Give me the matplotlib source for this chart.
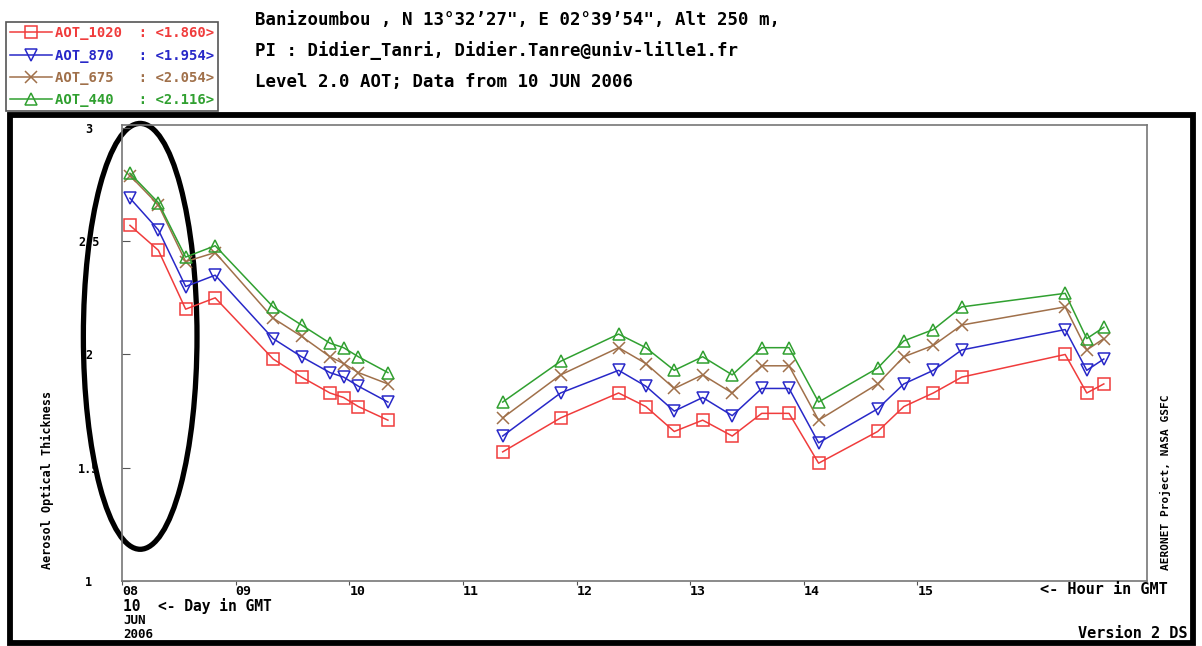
import numpy as np
import matplotlib
matplotlib.use('Agg')
from matplotlib import pyplot as plt
from matplotlib.patches import Ellipse, Rectangle

# hours GMT, 10 JUN 2006
hours = [8.07, 8.32, 8.56, 8.82, 9.33, 9.58, 9.83, 9.95, 10.08, 10.34,
         11.35, 11.86, 12.37, 12.61, 12.86, 13.11, 13.37, 13.63, 13.87, 14.13,
         14.65, 14.88, 15.14, 15.39, 16.30, 16.49, 16.64]
seg_start = [10]  # data gap before this index

aot_1020 = [2.57, 2.46, 2.20, 2.25, 1.98, 1.90, 1.83, 1.81, 1.77, 1.71,
            1.57, 1.72, 1.83, 1.77, 1.66, 1.71, 1.64, 1.74, 1.74, 1.52,
            1.66, 1.77, 1.83, 1.90, 2.00, 1.83, 1.87]
aot_870 = [2.69, 2.55, 2.30, 2.35, 2.07, 1.99, 1.92, 1.90, 1.86, 1.79,
           1.64, 1.83, 1.93, 1.86, 1.75, 1.81, 1.73, 1.85, 1.85, 1.61,
           1.76, 1.87, 1.93, 2.02, 2.11, 1.93, 1.98]
aot_675 = [2.79, 2.66, 2.41, 2.45, 2.16, 2.08, 1.99, 1.96, 1.92, 1.87,
           1.72, 1.91, 2.03, 1.96, 1.85, 1.91, 1.83, 1.95, 1.95, 1.71,
           1.87, 1.99, 2.04, 2.13, 2.21, 2.02, 2.07]
aot_440 = [2.80, 2.67, 2.43, 2.48, 2.21, 2.13, 2.05, 2.03, 1.99, 1.92,
           1.79, 1.97, 2.09, 2.03, 1.93, 1.99, 1.91, 2.03, 2.03, 1.79,
           1.94, 2.06, 2.11, 2.21, 2.27, 2.07, 2.12]

names = ['AOT_1020', 'AOT_870', 'AOT_675', 'AOT_440']
means = ['1.860', '1.954', '2.054', '2.116']
colors = ['#f03c3c', '#2828c8', '#a0704a', '#30a030']
markers = ['s', 'v', 'x', '^']

mono = 'DejaVu Sans Mono'
plt.rcParams['font.family'] = mono
plt.rcParams['font.weight'] = 'bold'

fig = plt.figure(figsize=(12.02, 6.46), dpi=100)
W, H = 1202, 646
ax = fig.add_axes([122 / W, 1 - 581 / H, (1147 - 122) / W, (581 - 125) / H])


def with_gaps(v):
  return np.insert(np.array(v, dtype=float), seg_start, np.nan)


x = with_gaps(hours)
handles = []
for vals, name, m, c, mk in zip([aot_1020, aot_870, aot_675, aot_440], names, means, colors, markers):
  ln, = ax.plot(x, with_gaps(vals), color=c, lw=1.1, marker=mk, markersize=8,
                mfc='none', mec=c, mew=1.1,
                label=f'{name:<10}: <{m}>')
  handles.append(ln)

ax.set_xlim(8.0, 17.02)
ax.set_ylim(1.0, 3.013)
ax.set_xticks(range(8, 16))
ax.set_xticklabels(['08', '09', '10', '11', '12', '13', '14', '15'], ha='left')
ax.set_yticks([1, 1.5, 2, 2.5, 3])
ax.set_yticklabels(['1', '1.5', '2', '2.5', '3'])
for lab in ax.get_yticklabels():
  lab.set_ha('center')
ax.tick_params(axis='y', direction='in', length=6, pad=24, labelsize=8.5, color='#555555')
ax.tick_params(axis='x', direction='out', length=3, pad=0, labelsize=9.5, color='#555555')
for s in ax.spines.values():
  s.set_color('#777777')
  s.set_linewidth(1.2)

# highlight ellipse around the morning peak
ax.add_patch(Ellipse((8.16, 2.08), 1.0, 1.88, fill=False, ec='black', lw=3.8, clip_on=False))

# outer thick frame
fig.patches.append(Rectangle((10 / W, 3 / H), 1183 / W, 528 / H, transform=fig.transFigure,
                             fill=False, ec='black', lw=4.2))

fig.text(47 / W, 1 - 480 / H, 'Aerosol Optical Thickness', rotation=90, fontsize=8.5,
         ha='center', va='center')
fig.text(1165 / W, 1 - 482 / H, 'AERONET Project, NASA GSFC', rotation=90, fontsize=8,
         ha='center', va='center')
fig.text(123 / W, 1 - 606 / H, '10  <- Day in GMT', fontsize=10.5, va='center')
fig.text(123 / W, 1 - 621 / H, 'JUN', fontsize=9, va='center')
fig.text(123 / W, 1 - 635 / H, '2006', fontsize=9, va='center')
fig.text(1040 / W, 1 - 589 / H, '<- Hour in GMT', fontsize=11, va='center')
fig.text(1188 / W, 1 - 633 / H, 'Version 2 DS', fontsize=11, va='center', ha='right')

title = ['Banizoumbou , N 13\u00b032\u201927", E 02\u00b039\u201954", Alt 250 m,',
         'PI : Didier_Tanri, Didier.Tanre@univ-lille1.fr',
         'Level 2.0 AOT; Data from 10 JUN 2006']
for i, line in enumerate(title):
  fig.text(255 / W, 1 - (20 + 31 * i) / H, line, fontsize=12.5, va='center')

leg = fig.legend(handles=handles, loc='upper left', bbox_to_anchor=(6 / W, 1 - 22 / H),
                 fontsize=10, labelcolor='linecolor', handlelength=3.0, handletextpad=0.2,
                 labelspacing=0.6, borderpad=0.3, borderaxespad=0, fancybox=False,
                 framealpha=1, edgecolor='#555555')
leg.get_frame().set_linewidth(1.2)

fig.savefig('out.png', dpi=100)
